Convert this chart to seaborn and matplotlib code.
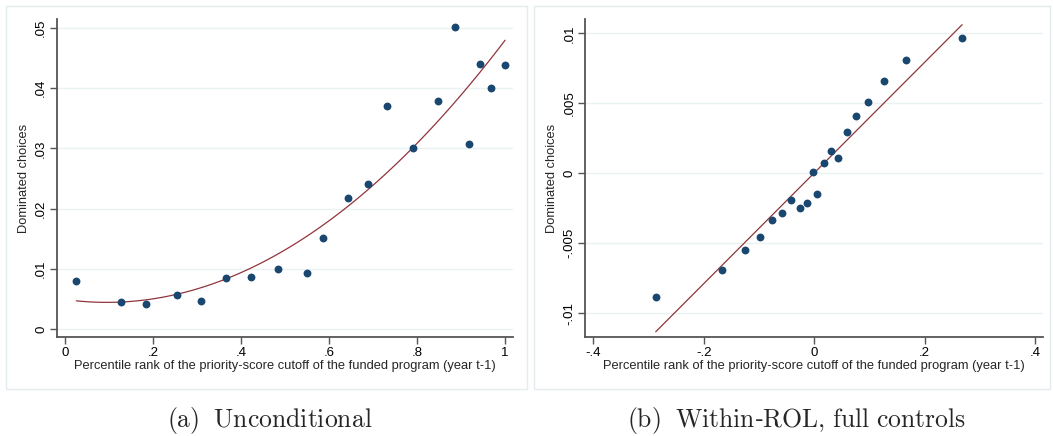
import seaborn as sns
import matplotlib.pyplot as plt
import numpy as np
import pandas as pd
from matplotlib.patches import Rectangle

sns.set_theme(style="white")
plt.rcParams['font.family'] = ['Liberation Sans', 'DejaVu Sans']
plt.rcParams['mathtext.fontset'] = 'cm'

# (a) Unconditional - binned scatter
x_a = [0.026, 0.128, 0.184, 0.254, 0.309, 0.367, 0.423, 0.484, 0.551, 0.586,
       0.642, 0.688, 0.732, 0.790, 0.848, 0.886, 0.917, 0.942, 0.967, 1.000]
y_a = [0.0080, 0.0045, 0.0042, 0.0056, 0.0046, 0.0085, 0.0087, 0.0100, 0.0093, 0.0151,
       0.0217, 0.0241, 0.0370, 0.0300, 0.0378, 0.0502, 0.0308, 0.0441, 0.0400, 0.0439]

# (b) Within-ROL, full controls
x_b = [-0.287, -0.167, -0.126, -0.098, -0.077, -0.059, -0.042, -0.026, -0.013, -0.002,
       0.005, 0.018, 0.030, 0.044, 0.059, 0.076, 0.097, 0.126, 0.166, 0.268]
y_b = [-0.00881, -0.0069, -0.0055, -0.00453, -0.00336, -0.00284, -0.0019, -0.0025, -0.0021, 0.0001,
       -0.00148, 0.00074, 0.00162, 0.00109, 0.00295, 0.00409, 0.00511, 0.00659, 0.00807, 0.00969]

xticks_a = [0, 0.2, 0.4, 0.6, 0.8, 1]
xlabels_a = ['0', '.2', '.4', '.6', '.8', '1']
yticks_a = [0, 0.01, 0.02, 0.03, 0.04, 0.05]
ylabels_a = ['0', '.01', '.02', '.03', '.04', '.05']
xticks_b = [-0.4, -0.2, 0, 0.2, 0.4]
xlabels_b = ['-.4', '-.2', '0', '.2', '.4']
yticks_b = [-0.01, -0.005, 0, 0.005, 0.01]
ylabels_b = ['-.01', '-.005', '0', '.005', '.01']

dot_color = '#1a476f'
fit_color = '#90353b'
grid_color = '#eaf2f3'
xlab = 'Percentile rank of the priority-score cutoff of the funded program (year t-1)'

fig = plt.figure(figsize=(10.53, 4.36), dpi=100)

# light panel frames
for x0, w in [(6 / 1053, 521 / 1053), (534 / 1053, 516 / 1053)]:
    fig.patches.append(Rectangle((x0, 1 - 389 / 436), w, 383 / 436, transform=fig.transFigure,
                                 fill=False, edgecolor='#e3ecee', linewidth=1.0))

ax1 = fig.add_axes([0.0541, 0.2271, 0.4331, 0.7294])
ax2 = fig.add_axes([0.5556, 0.2271, 0.4352, 0.7294])

df_a = pd.DataFrame({'x': x_a, 'y': y_a})
df_b = pd.DataFrame({'x': x_b, 'y': y_b})

sns.regplot(data=df_a, x='x', y='y', order=2, ci=None, ax=ax1,
            scatter_kws=dict(color=dot_color, s=32, linewidths=0, alpha=1, zorder=3),
            line_kws=dict(color=fit_color, linewidth=0.9, zorder=2))
sns.regplot(data=df_b, x='x', y='y', order=1, ci=None, ax=ax2, truncate=True,
            scatter_kws=dict(color=dot_color, s=32, linewidths=0, alpha=1, zorder=3),
            line_kws=dict(color=fit_color, linewidth=0.9, zorder=2))

def style(ax, xt, xl, yt, yl, xlim, ylim):
    ax.set_xlim(*xlim)
    ax.set_ylim(*ylim)
    ax.set_xticks(xt)
    ax.set_xticklabels(xl)
    ax.set_yticks(yt)
    ax.set_yticklabels(yl, rotation=90, va='center')
    ax.grid(axis='y', color=grid_color, linewidth=1.0)
    ax.set_axisbelow(True)
    for s in ['top', 'right']:
        ax.spines[s].set_visible(False)
    for s in ['left', 'bottom']:
        ax.spines[s].set_color('#555555')
        ax.spines[s].set_linewidth(1.3)
    ax.tick_params(axis='both', direction='out', length=5, width=1, color='#555555',
                   labelsize=9.5, labelcolor='black', pad=2, left=True, bottom=True)
    ax.set_xlabel(xlab, fontsize=9.3, labelpad=1)
    ax.set_ylabel('Dominated choices', fontsize=9.3, labelpad=4)

style(ax1, xticks_a, xlabels_a, yticks_a, ylabels_a, (-0.018, 1.018), (-0.0013, 0.0515))
style(ax2, xticks_b, xlabels_b, yticks_b, ylabels_b, (-0.415, 0.415), (-0.0117, 0.01103))

fig.text(270 / 1053, 1 - 420 / 436, r'$\mathrm{(a)\;\ Unconditional}$', ha='center', va='center',
         fontsize=18.5)
fig.text(796 / 1053, 1 - 420 / 436, r'$\mathrm{(b)\;\ Within}$-$\mathrm{ROL{,}\ full\ controls}$',
         ha='center', va='center', fontsize=18.5)

fig.savefig('out.png', dpi=100)
